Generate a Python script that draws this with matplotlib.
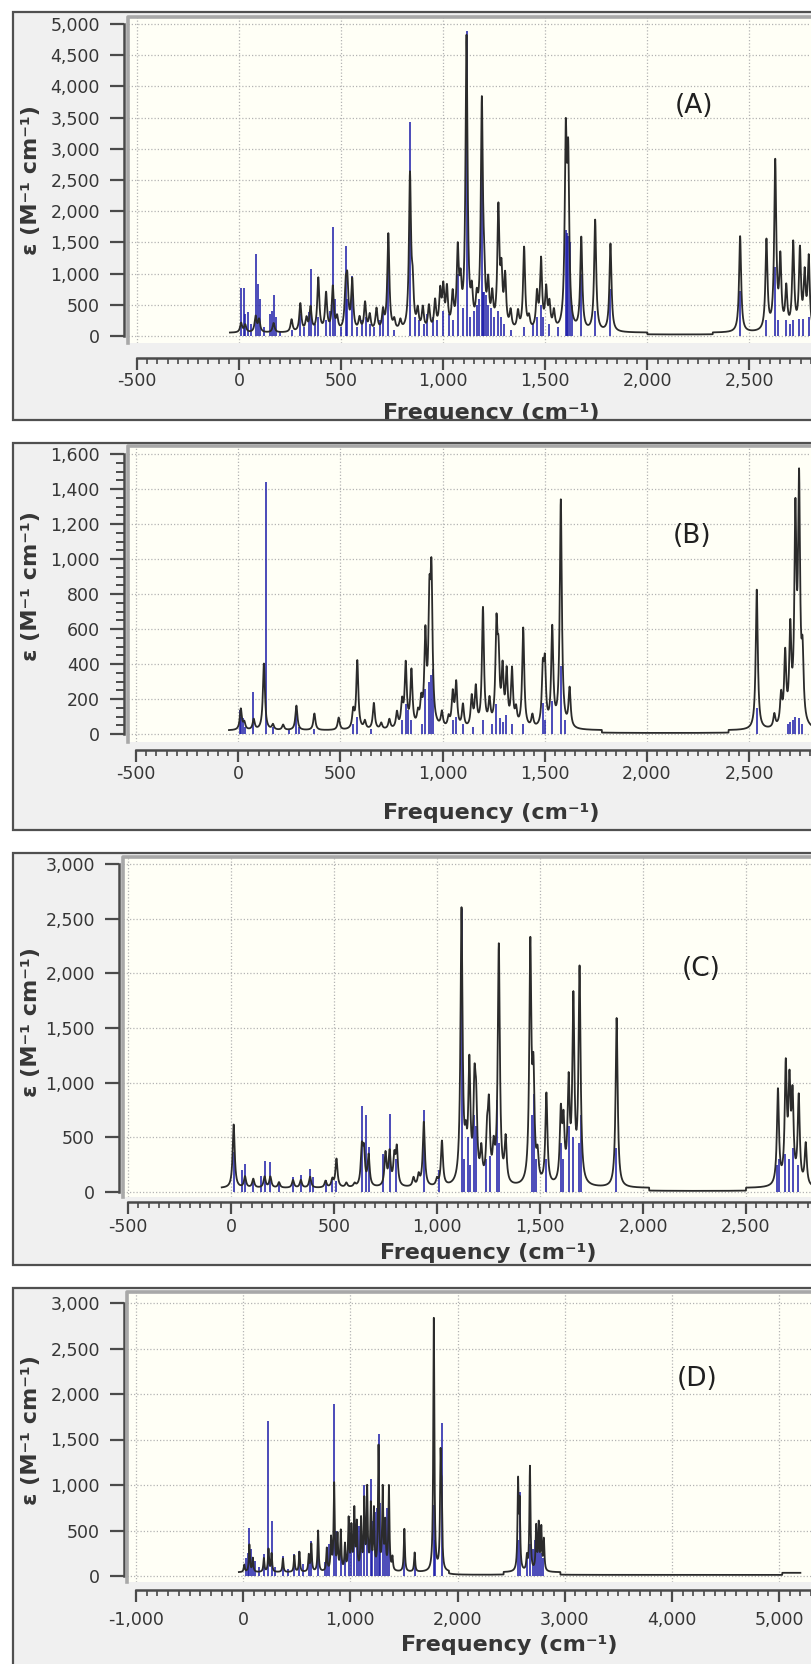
import numpy as np
import matplotlib.pyplot as plt
from matplotlib.patches import Rectangle
from matplotlib.ticker import MultipleLocator, FuncFormatter

# ---------------- data (cm-1, M-1 cm-1) ----------------
# (A)
a_line_freq = [10, 30, 81, 98, 169, 257, 300, 330, 350, 388, 426, 459, 480, 522, 530, 554,
               590, 617, 640, 673, 705, 731, 760, 790, 837, 850, 875, 900, 930, 960, 985,
               1000, 1018, 1046, 1071, 1085, 1114, 1140, 1164, 1189, 1200, 1220, 1240, 1270,
               1285, 1303, 1330, 1366, 1396, 1420, 1459, 1479, 1504, 1520, 1542, 1600, 1612,
               1676, 1744, 1819, 2454, 2583, 2626, 2651, 2680, 2714, 2747, 2770, 2790]
a_line_eps = [150, 120, 250, 200, 150, 200, 450, 200, 380, 850, 600, 700, 200, 600, 700, 800,
              200, 450, 250, 350, 300, 1550, 150, 150, 2450, 600, 300, 350, 380, 450, 580,
              620, 620, 520, 1200, 600, 4650, 480, 380, 3550, 550, 650, 480, 1880,
              800, 800, 280, 280, 1320, 180, 560, 1100, 620, 380, 280, 2900, 2500,
              1480, 1780, 1410, 1540, 1440, 2680, 1100, 650, 1380, 1260, 850, 1150]
a_stick_freq = [10, 22, 30, 45, 60, 81, 95, 102, 120, 150, 160, 169, 180, 200, 260, 300, 320,
                340, 350, 370, 388, 426, 445, 459, 470, 500, 522, 530, 554, 580, 600, 620,
                640, 660, 690, 705, 731, 760, 837, 860, 880, 905, 920, 950, 970, 1000, 1030,
                1050, 1071, 1095, 1114, 1130, 1150, 1165, 1175, 1189, 1195, 1200, 1210, 1220,
                1235, 1250, 1270, 1285, 1300, 1330, 1396, 1440, 1459, 1479, 1490, 1520, 1560,
                1600, 1605, 1612, 1620, 1630, 1676, 1744, 1819, 2454, 2583, 2626, 2640, 2680,
                2700, 2714, 2740, 2760, 2790]
a_stick_eps = [770, 770, 350, 380, 200, 1310, 830, 600, 150, 350, 400, 660, 300, 80, 100, 350,
               150, 380, 1080, 200, 300, 250, 400, 1750, 600, 150, 1440, 600, 960, 150, 250,
               300, 200, 150, 250, 380, 1100, 100, 3430, 300, 250, 200, 350, 300, 250, 400,
               350, 250, 1000, 450, 4880, 300, 400, 500, 600, 3270, 700, 700, 650, 500, 450,
               300, 400, 300, 200, 100, 150, 200, 300, 500, 300, 200, 150, 1700, 1650, 1600,
               1500, 500, 1000, 400, 750, 720, 250, 1100, 250, 250, 200, 250, 270, 280, 300]
a_base_freq = [-45, 2000, 2320, 3400]
a_base_eps = [50, 20, 50]

# (B)
b_line_freq = [13, 30, 76, 126, 170, 220, 285, 373, 492, 563, 583, 620, 664, 700, 740, 777,
               802, 820, 848, 880, 896, 916, 936, 946, 997, 1030, 1050, 1067, 1100, 1143,
               1163, 1198, 1230, 1264, 1274, 1294, 1314, 1340, 1360, 1395, 1440, 1491, 1501,
               1537, 1579, 1622, 2538, 2624, 2657, 2677, 2702, 2727, 2745, 2762]
b_line_eps = [120, 40, 60, 380, 30, 30, 140, 95, 70, 100, 390, 45, 150, 35, 55, 90,
              140, 360, 320, 70, 130, 500, 620, 790, 85, 55, 190, 250, 130, 170,
              220, 680, 140, 540, 350, 310, 300, 320, 90, 570, 70, 300, 330,
              560, 1300, 220, 800, 75, 170, 400, 520, 1150, 1330, 350]
b_stick_freq = [10, 15, 22, 35, 75, 134, 170, 250, 285, 300, 373, 560, 583, 650, 800, 820, 830,
                848, 900, 916, 935, 946, 955, 1050, 1067, 1100, 1150, 1198, 1240, 1264, 1280,
                1295, 1310, 1340, 1395, 1491, 1501, 1537, 1579, 1600, 2538, 2690, 2700, 2715,
                2727, 2745, 2760]
b_stick_eps = [140, 100, 90, 40, 240, 1438, 40, 30, 150, 40, 30, 60, 100, 30, 80, 170, 140,
               80, 60, 260, 300, 340, 370, 80, 100, 60, 40, 80, 60, 170, 90,
               70, 110, 60, 60, 180, 80, 190, 390, 80, 150, 60, 70, 80,
               100, 90, 60]
b_base_freq = [-45, 1780, 2400, 3400]
b_base_eps = [20, 5, 20]

# (C)
c_line_freq = [13, 68, 108, 163, 191, 233, 301, 339, 384, 459, 492, 512, 560, 600, 635, 645,
               668, 750, 770, 793, 805, 886, 911, 936, 1000, 1024, 1119, 1140, 1157, 1182,
               1190, 1215, 1243, 1252, 1275, 1300, 1333, 1453, 1468, 1488, 1531, 1601, 1614,
               1639, 1662, 1692, 1872, 2655, 2693, 2711, 2726, 2756, 2790]
c_line_eps = [580, 100, 80, 100, 100, 50, 70, 70, 100, 60, 70, 260, 40, 30, 330, 300,
              280, 300, 300, 250, 330, 80, 100, 590, 60, 410, 2500, 280, 1050, 800,
              600, 280, 380, 650, 280, 2180, 400, 2150, 900, 230, 830, 620, 510,
              880, 1650, 1950, 1550, 870, 1050, 850, 750, 800, 380]
c_stick_freq = [13, 53, 68, 108, 146, 163, 191, 233, 301, 339, 384, 397, 459, 492, 512, 635,
                655, 668, 740, 770, 800, 936, 1010, 1119, 1130, 1150, 1160, 1180, 1190, 1240,
                1255, 1290, 1300, 1460, 1470, 1480, 1530, 1600, 1610, 1640, 1660, 1690, 1700,
                1870, 2650, 2660, 2690, 2710, 2730, 2750]
c_stick_eps = [370, 200, 260, 120, 150, 283, 277, 77, 140, 154, 209, 138, 108, 123, 100, 785,
               708, 415, 350, 714, 300, 750, 200, 2585, 300, 500, 250, 700, 600, 300,
               330, 845, 450, 700, 900, 300, 300, 450, 300, 600, 500, 450, 700,
               400, 250, 300, 350, 300, 400, 250]
c_base_freq = [-45, 2030, 2500, 3400]
c_base_eps = [35, 8, 35]

# (D)
d_line_freq = [10, 58, 90, 193, 236, 265, 371, 477, 525, 612, 636, 699, 780, 820, 849, 880,
               911, 950, 984, 1010, 1037, 1060, 1100, 1130, 1157, 1191, 1220, 1263, 1302,
               1326, 1360, 1393, 1504, 1600, 1779, 1842, 1852, 2565, 2580, 2647, 2676, 2734,
               2758, 2782, 2806]
d_line_eps = [80, 300, 150, 150, 250, 200, 150, 180, 220, 180, 300, 450, 250, 350, 950, 380,
              430, 280, 560, 460, 650, 500, 550, 750, 880, 700, 650, 1350, 880,
              500, 920, 140, 470, 210, 2780, 1150, 700, 950, 700, 150, 1150, 480,
              500, 460, 340]
d_stick_freq = [30, 45, 58, 70, 90, 110, 150, 193, 236, 265, 300, 371, 420, 477, 525, 560, 612,
                636, 699, 760, 780, 800, 849, 870, 911, 950, 984, 1010, 1037, 1060, 1080,
                1100, 1130, 1157, 1191, 1200, 1230, 1250, 1263, 1280, 1302, 1326, 1340, 1360,
                1504, 1600, 1779, 1790, 1852, 2565, 2580, 2650, 2680, 2700, 2720, 2740, 2760,
                2780, 2800]
d_stick_eps = [200, 250, 530, 300, 200, 170, 100, 240, 1707, 600, 100, 220, 80, 240, 275, 130,
               220, 385, 496, 150, 300, 350, 1891, 500, 477, 300, 560, 450, 735, 400, 550,
               500, 1000, 973, 1065, 600, 700, 750, 1560, 800, 973, 570, 750, 990,
               485, 228, 780, 400, 1678, 400, 920, 200, 350, 300, 400, 300, 350,
               250, 200]
d_base_freq = [-40, 1920, 2430, 2960, 5030, 5200]
d_base_eps = [40, 12, 40, 12, 35]

# ---------------------------------------------------------------------------
W, H, DPI = 811, 1664, 100
PT = 72.0 / DPI
fig = plt.figure(figsize=(W / DPI, H / DPI), dpi=DPI)
fig.patch.set_facecolor('white')
plt.rcParams['font.family'] = ['DejaVu Sans']

TXT = '#363636'
CREAM = '#fffff6'
PANEL = '#f0f0f0'


def spectrum(freq, amp, base_freq, base_eps, hwhm=6.0):
    x = np.arange(base_freq[0], base_freq[-1], 0.5)
    idx = np.clip(np.searchsorted(base_freq, x, side='right') - 1, 0, len(base_eps) - 1)
    y = np.asarray(base_eps, float)[idx]
    for f, h in zip(freq, amp):
        y = y + h * hwhm ** 2 / ((x - f) ** 2 + hwhm ** 2)
    return x, y


def panel(lay, line, sticks, base, xstep, xminor, ystep, yminor, letter):
    box_top, box_bot, plot_left, plot_top, plot_bot, yspine, xspine = lay['frame']
    (v0, py0), (v1, py1) = lay['y']
    (u0, px0), (u1, px1) = lay['x']
    right = 1000
    to_data = lambda p: u0 + (p - px0) * (u1 - u0) / (px1 - px0)

    box = Rectangle((13 / W, 1 - box_bot / H), 1.2, (box_bot - box_top) / H,
                    transform=fig.transFigure, fc=PANEL, ec='#505050', lw=1.6, zorder=-10)
    fig.add_artist(box)

    ax = fig.add_axes([plot_left / W, 1 - plot_bot / H, (right - plot_left) / W,
                       (plot_bot - plot_top) / H])
    ax.set_facecolor(CREAM)
    ax.set_xlim(to_data(plot_left), to_data(right))
    ax.set_ylim(v0 + (plot_bot - py0) * (v1 - v0) / (py1 - py0),
                v0 + (plot_top - py0) * (v1 - v0) / (py1 - py0))

    ax.vlines(sticks[0], 0, sticks[1], color='#1a1aa8', lw=1.1, zorder=2)
    x, y = spectrum(line[0], line[1], base[0], base[1])
    ax.plot(x, y, color='#2b2b2b', lw=1.3, zorder=3)

    for s in ['top', 'right']:
        ax.spines[s].set_visible(False)
    ax.spines['left'].set_position(('outward', (plot_left - yspine) * PT))
    ax.spines['bottom'].set_position(('outward', (xspine - plot_bot) * PT))
    ax.spines['left'].set_bounds(v0, v1)
    ax.spines['bottom'].set_bounds(u0, ax.get_xlim()[1])
    for s in ['left', 'bottom']:
        ax.spines[s].set_color('#4a4a4a')
        ax.spines[s].set_linewidth(1.8)
    ax.plot([0, 0, 1], [0, 1, 1], transform=ax.transAxes, color='#a8a8a8', lw=2.6,
            clip_on=False, zorder=4)

    ax.xaxis.set_major_locator(MultipleLocator(xstep))
    ax.xaxis.set_minor_locator(MultipleLocator(xminor))
    ax.yaxis.set_major_locator(MultipleLocator(ystep))
    if yminor:
        ax.yaxis.set_minor_locator(MultipleLocator(yminor))
    # labels past the cropped right edge of the screenshot are not shown
    x_edge = to_data(W - 26)
    ax.xaxis.set_major_formatter(FuncFormatter(lambda v, p: f'{v:,.0f}' if v <= x_edge else ''))
    ax.yaxis.set_major_formatter(FuncFormatter(lambda v, p: f'{v:,.0f}'))
    ax.tick_params(axis='y', which='major', length=14 * PT, width=1.6, pad=10 * PT,
                   color='#4a4a4a', labelcolor=TXT, labelsize=12.5)
    ax.tick_params(axis='y', which='minor', length=8 * PT, width=1.4, color='#4a4a4a')
    ax.tick_params(axis='x', which='major', length=12 * PT, width=1.6, pad=lay['xpad'] * PT,
                   color='#4a4a4a', labelcolor=TXT, labelsize=12.5)
    ax.tick_params(axis='x', which='minor', length=6 * PT, width=1.2, color='#4a4a4a')

    ax.grid(True, which='major', color='#b4b4b4', lw=0.9, ls=(0, (1, 1.6)))
    ax.set_axisbelow(True)

    ax.text(letter[1], letter[2], letter[0], fontsize=19, color='#202020',
            ha='center', va='center', zorder=5)

    xl = fig.text(lay['xlabel'][0] / W, 1 - lay['xlabel'][1] / H, 'Frequency (cm⁻¹)',
                  ha='center', va=lay['xlabel'][2], fontsize=16, fontweight='bold', color=TXT)
    xl.set_clip_path(box)
    fig.text(31 / W, 1 - lay['ylabel'] / H, 'ε (M⁻¹ cm⁻¹)', rotation=90,
             ha='center', va='center', fontsize=16, fontweight='bold', color=TXT)
    return ax


panel({'frame': (12, 420, 128, 17, 343, 124, 358), 'y': ((0, 336), (5000, 24)),
       'x': ((-500, 137), (2500, 749.5)), 'xpad': 2, 'xlabel': (491, 419, 'baseline'),
       'ylabel': 180},
      (a_line_freq, a_line_eps), (a_stick_freq, a_stick_eps), (a_base_freq, a_base_eps),
      500, 50, 500, None, ('(A)', 2228, 3686))

panel({'frame': (443, 830, 128, 446, 742, 124, 750), 'y': ((0, 734), (1600, 454)),
       'x': ((-500, 136), (2500, 749)), 'xpad': 3, 'xlabel': (491, 813, 'center'),
       'ylabel': 586},
      (b_line_freq, b_line_eps), (b_stick_freq, b_stick_eps), (b_base_freq, b_base_eps),
      500, 50, 200, 50, ('(B)', 2220, 1131))

panel({'frame': (853, 1265, 123, 857, 1197, 119, 1202), 'y': ((0, 1192), (3000, 864)),
       'x': ((-500, 128), (2500, 746)), 'xpad': 4, 'xlabel': (488, 1253, 'center'),
       'ylabel': 1022},
      (c_line_freq, c_line_eps), (c_stick_freq, c_stick_eps), (c_base_freq, c_base_eps),
      500, 50, 500, None, ('(C)', 2281, 2040))

panel({'frame': (1288, 1720, 127, 1292, 1582, 124, 1590), 'y': ((0, 1576), (3000, 1303)),
       'x': ((-1000, 136), (5000, 779)), 'xpad': 9, 'xlabel': (509, 1645, 'center'),
       'ylabel': 1430},
      (d_line_freq, d_line_eps), (d_stick_freq, d_stick_eps), (d_base_freq, d_base_eps),
      1000, 100, 500, None, ('(D)', 4233, 2165))

fig.savefig('out.png', dpi=DPI)
